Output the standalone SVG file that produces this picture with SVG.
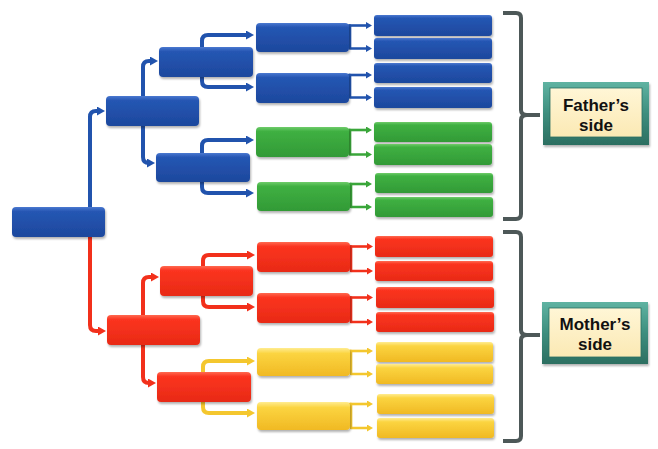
<svg xmlns="http://www.w3.org/2000/svg" width="658" height="449" viewBox="0 0 658 449">
<style>
.b{fill:url(#gB)}.g{fill:url(#gG)}.r{fill:url(#gR)}.y{fill:url(#gY)}
.n rect{filter:url(#sh)}
.c{fill:none;stroke-linecap:butt;stroke-linejoin:round}
.big{stroke-width:4}.sm{stroke-width:2.6}
.cb{stroke:#2153ad}.cr{stroke:#f2301b}.cg{stroke:#3aa63a}.cy{stroke:#f4c72e}
.br{fill:none;stroke:#4d5858;stroke-width:4;stroke-linejoin:round}
.lbl{font-family:"Liberation Sans",Arial,sans-serif;font-weight:bold;font-size:17px;fill:#111;text-anchor:middle}
</style>
<defs>
<linearGradient id="gB" x1="0" y1="0" x2="0" y2="1"><stop offset="0" stop-color="#4a78d0"/><stop offset="0.15" stop-color="#2556b3"/><stop offset="1" stop-color="#1d489d"/></linearGradient>
<linearGradient id="gG" x1="0" y1="0" x2="0" y2="1"><stop offset="0" stop-color="#6fcc6a"/><stop offset="0.15" stop-color="#3fb042"/><stop offset="1" stop-color="#329a36"/></linearGradient>
<linearGradient id="gR" x1="0" y1="0" x2="0" y2="1"><stop offset="0" stop-color="#ff6a50"/><stop offset="0.15" stop-color="#fb3420"/><stop offset="1" stop-color="#e82a15"/></linearGradient>
<linearGradient id="gY" x1="0" y1="0" x2="0" y2="1"><stop offset="0" stop-color="#ffec90"/><stop offset="0.2" stop-color="#fbd440"/><stop offset="1" stop-color="#f0b923"/></linearGradient>
<linearGradient id="gT" x1="0" y1="0" x2="0" y2="1"><stop offset="0" stop-color="#5fb3a2"/><stop offset="0.5" stop-color="#3e8e7e"/><stop offset="1" stop-color="#2c6f61"/></linearGradient>
<linearGradient id="gC" x1="0" y1="0" x2="0" y2="1"><stop offset="0" stop-color="#fff6d6"/><stop offset="1" stop-color="#fbe9b4"/></linearGradient>
<filter id="sh" x="-10%" y="-20%" width="125%" height="160%"><feDropShadow dx="1" dy="2" stdDeviation="1.3" flood-color="#000" flood-opacity="0.3"/></filter>
<marker id="aB" markerUnits="userSpaceOnUse" viewBox="0 0 8 9" markerWidth="8" markerHeight="9" refX="4" refY="4.5" orient="auto"><path d="M0 0 L8 4.5 L0 9z" fill="#2153ad"/></marker>
<marker id="aR" markerUnits="userSpaceOnUse" viewBox="0 0 8 9" markerWidth="8" markerHeight="9" refX="4" refY="4.5" orient="auto"><path d="M0 0 L8 4.5 L0 9z" fill="#f2301b"/></marker>
<marker id="aY" markerUnits="userSpaceOnUse" viewBox="0 0 8 9" markerWidth="8" markerHeight="9" refX="4" refY="4.5" orient="auto"><path d="M0 0 L8 4.5 L0 9z" fill="#f4c72e"/></marker>
<marker id="sB" markerUnits="userSpaceOnUse" viewBox="0 0 6 7" markerWidth="6" markerHeight="7" refX="3" refY="3.5" orient="auto"><path d="M0 0 L6 3.5 L0 7z" fill="#2153ad"/></marker>
<marker id="sG" markerUnits="userSpaceOnUse" viewBox="0 0 6 7" markerWidth="6" markerHeight="7" refX="3" refY="3.5" orient="auto"><path d="M0 0 L6 3.5 L0 7z" fill="#3aa63a"/></marker>
<marker id="sR" markerUnits="userSpaceOnUse" viewBox="0 0 6 7" markerWidth="6" markerHeight="7" refX="3" refY="3.5" orient="auto"><path d="M0 0 L6 3.5 L0 7z" fill="#f2301b"/></marker>
<marker id="sY" markerUnits="userSpaceOnUse" viewBox="0 0 6 7" markerWidth="6" markerHeight="7" refX="3" refY="3.5" orient="auto"><path d="M0 0 L6 3.5 L0 7z" fill="#f4c72e"/></marker>
</defs>
<rect width="658" height="449" fill="#fff"/>
<g id="connectors">
<path class="c big cb" marker-end="url(#aB)" d="M90 215 V117 Q90 111 96 111 H101"/>
<path class="c big cr" marker-end="url(#aR)" d="M90 230 V325 Q90 331 96 331 H102"/>
<path class="c big cb" marker-end="url(#aB)" d="M143 100 V67 Q143 61 149 61 H154"/>
<path class="c big cb" marker-end="url(#aB)" d="M143 120 V157 Q143 163 149 163 H151"/>
<path class="c big cr" marker-end="url(#aR)" d="M143 320 V283 Q143 277 149 277 H155"/>
<path class="c big cr" marker-end="url(#aR)" d="M143 340 V377 Q143 383 149 383 H152"/>
<path class="c big cb" marker-end="url(#aB)" d="M202 52 V41 Q202 35 208 35 H250"/>
<path class="c big cb" marker-end="url(#aB)" d="M202 72 V81 Q202 87 208 87 H250"/>
<path class="c big cb" marker-end="url(#aB)" d="M202 158 V146 Q202 140 208 140 H250"/>
<path class="c big cb" marker-end="url(#aB)" d="M202 177 V187 Q202 193 208 193 H250"/>
<path class="c big cr" marker-end="url(#aR)" d="M203 270 V261 Q203 255 209 255 H251"/>
<path class="c big cr" marker-end="url(#aR)" d="M203 292 V301 Q203 307 209 307 H251"/>
<path class="c big cy" marker-end="url(#aY)" d="M203 378 V367 Q203 361 209 361 H251"/>
<path class="c big cy" marker-end="url(#aY)" d="M203 396 V407 Q203 413 209 413 H251"/>
<path class="c sm cb" marker-end="url(#sB)" d="M340 25.5 H350 V48.5 H369"/><path class="c sm cb" marker-end="url(#sB)" d="M349 25.5 H369"/>
<path class="c sm cb" marker-end="url(#sB)" d="M340 75 H350 V97.5 H369"/><path class="c sm cb" marker-end="url(#sB)" d="M349 75 H369"/>
<path class="c sm cg" marker-end="url(#sG)" d="M340 130 H350 V154.5 H369"/><path class="c sm cg" marker-end="url(#sG)" d="M349 130 H369"/>
<path class="c sm cg" marker-end="url(#sG)" d="M340 184 H351 V207 H369"/><path class="c sm cg" marker-end="url(#sG)" d="M350 184 H369"/>
<path class="c sm cr" marker-end="url(#sR)" d="M340 246.5 H351 V271 H370"/><path class="c sm cr" marker-end="url(#sR)" d="M350 246.5 H370"/>
<path class="c sm cr" marker-end="url(#sR)" d="M340 297.5 H351 V322 H370"/><path class="c sm cr" marker-end="url(#sR)" d="M350 297.5 H370"/>
<path class="c sm cy" marker-end="url(#sY)" d="M340 351 H351 V374 H370"/><path class="c sm cy" marker-end="url(#sY)" d="M350 351 H370"/>
<path class="c sm cy" marker-end="url(#sY)" d="M340 404 H351 V428 H370"/><path class="c sm cy" marker-end="url(#sY)" d="M350 404 H370"/>
</g>
<g id="root" class="n"><rect class="b" x="12" y="207" width="93" height="30" rx="4"/></g>
<g id="f1" class="n"><rect class="b" x="106" y="96" width="93" height="30" rx="4"/></g>
<g id="m1" class="n"><rect class="r" x="107" y="315" width="93" height="30" rx="4"/></g>
<g id="f2a" class="n"><rect class="b" x="159" y="47" width="94" height="30" rx="4"/></g>
<g id="f2b" class="n"><rect class="b" x="156" y="153" width="94" height="29" rx="4"/></g>
<g id="m2a" class="n"><rect class="r" x="160" y="266" width="93" height="30" rx="4"/></g>
<g id="m2b" class="n"><rect class="r" x="157" y="372" width="94" height="30" rx="4"/></g>
<g id="f3a" class="n"><rect class="b" x="256" y="23" width="93" height="29" rx="4"/></g>
<g id="f3b" class="n"><rect class="b" x="256" y="73" width="93" height="30" rx="4"/></g>
<g id="f3c" class="n"><rect class="g" x="256" y="127" width="93" height="30" rx="4"/></g>
<g id="f3d" class="n"><rect class="g" x="257" y="182" width="93" height="29" rx="4"/></g>
<g id="m3a" class="n"><rect class="r" x="257" y="242" width="93" height="30" rx="4"/></g>
<g id="m3b" class="n"><rect class="r" x="257" y="293" width="93" height="30" rx="4"/></g>
<g id="m3c" class="n"><rect class="y" x="257" y="348" width="93" height="28" rx="4"/></g>
<g id="m3d" class="n"><rect class="y" x="257" y="402" width="93" height="28" rx="4"/></g>
<g id="f4a" class="n"><rect class="b" x="374" y="15" width="118" height="21" rx="3"/></g>
<g id="f4b" class="n"><rect class="b" x="374" y="38" width="118" height="21" rx="3"/></g>
<g id="f4c" class="n"><rect class="b" x="374" y="63" width="118" height="20" rx="3"/></g>
<g id="f4d" class="n"><rect class="b" x="374" y="87" width="118" height="21" rx="3"/></g>
<g id="f4e" class="n"><rect class="g" x="374" y="122" width="118" height="20" rx="3"/></g>
<g id="f4f" class="n"><rect class="g" x="374" y="144" width="118" height="21" rx="3"/></g>
<g id="f4g" class="n"><rect class="g" x="375" y="173" width="118" height="20" rx="3"/></g>
<g id="f4h" class="n"><rect class="g" x="375" y="197" width="118" height="20" rx="3"/></g>
<g id="m4a" class="n"><rect class="r" x="375" y="236" width="118" height="21" rx="3"/></g>
<g id="m4b" class="n"><rect class="r" x="375" y="261" width="118" height="20" rx="3"/></g>
<g id="m4c" class="n"><rect class="r" x="376" y="287" width="118" height="21" rx="3"/></g>
<g id="m4d" class="n"><rect class="r" x="376" y="312" width="118" height="20" rx="3"/></g>
<g id="m4e" class="n"><rect class="y" x="376" y="342" width="117" height="20" rx="3"/></g>
<g id="m4f" class="n"><rect class="y" x="376" y="364" width="117" height="20" rx="3"/></g>
<g id="m4g" class="n"><rect class="y" x="377" y="394" width="117" height="20" rx="3"/></g>
<g id="m4h" class="n"><rect class="y" x="377" y="418" width="117" height="20" rx="3"/></g>
<g id="father-bracket"><path class="br" d="M503 13 H516 Q521 13 521 18 V110 Q521 115 527 115 H540 M527 115 Q521 115 521 120 V214 Q521 219 516 219 H503"/></g>
<g id="mother-bracket"><path class="br" d="M503 232 H516 Q521 232 521 237 V330 Q521 335 527 335 H540 M527 335 Q521 335 521 340 V436 Q521 441 516 441 H503"/></g>
<g id="father-label">
<rect x="543" y="82" width="106" height="63" fill="url(#gT)" filter="url(#sh)"/>
<rect x="550" y="88" width="92" height="49" fill="url(#gC)" stroke="#2c6f61" stroke-width="0.8"/>
<text class="lbl" x="596" y="110.5">Father’s</text>
<text class="lbl" x="596" y="130.5">side</text>
</g>
<g id="mother-label">
<rect x="542" y="302" width="106" height="62" fill="url(#gT)" filter="url(#sh)"/>
<rect x="549" y="308" width="92" height="49" fill="url(#gC)" stroke="#2c6f61" stroke-width="0.8"/>
<text class="lbl" x="595" y="330">Mother’s</text>
<text class="lbl" x="595" y="350">side</text>
</g>
</svg>
